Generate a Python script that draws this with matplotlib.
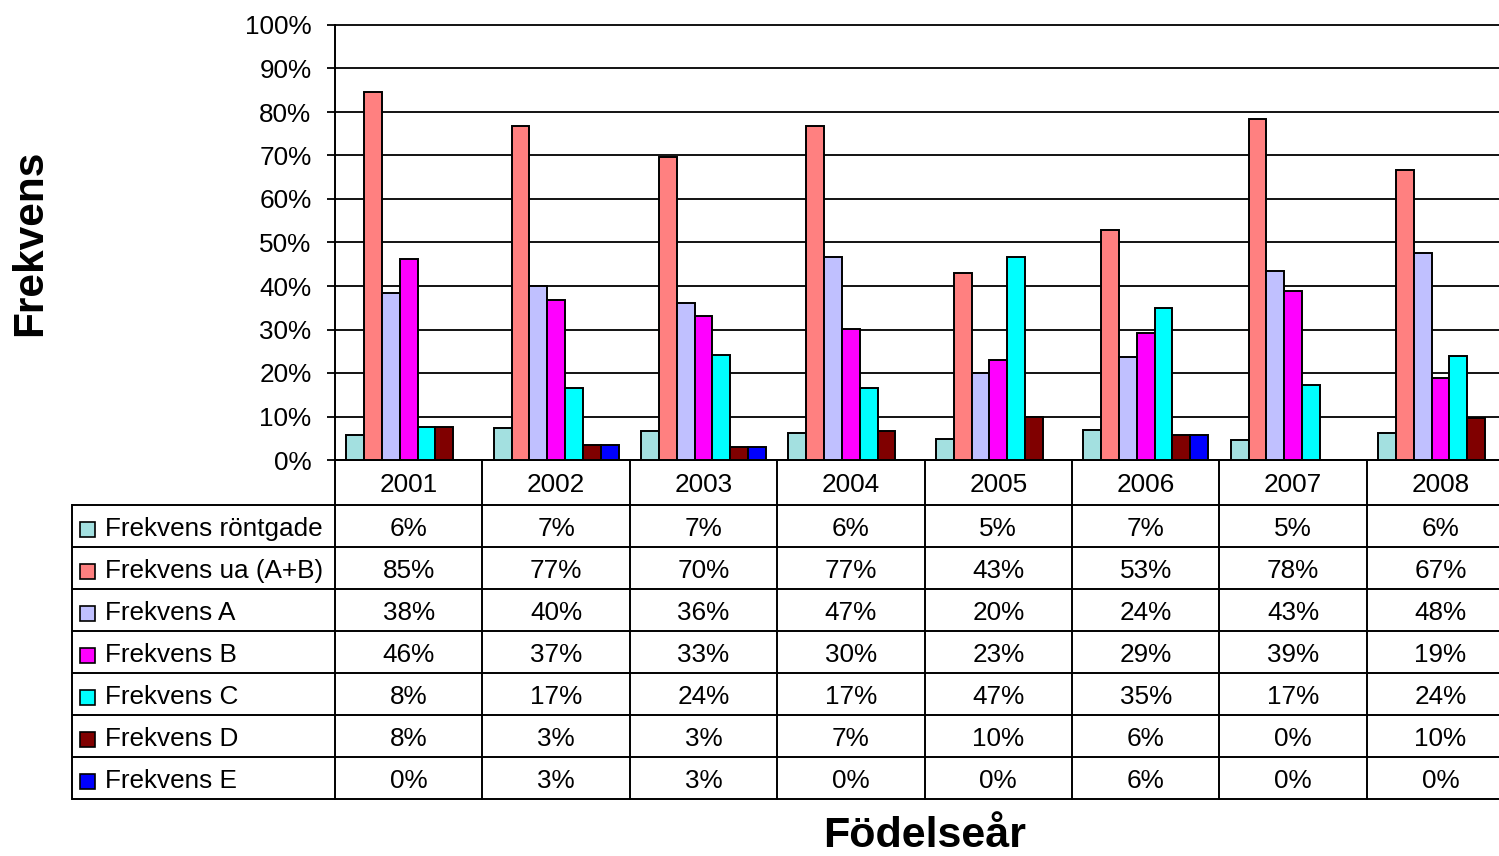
import matplotlib
matplotlib.use("Agg")
import matplotlib.pyplot as plt
from matplotlib.transforms import blended_transform_factory
from matplotlib.patches import Rectangle
import numpy as np

plt.rcParams['font.family'] = ['Liberation Sans', 'DejaVu Sans']

years = ["2001", "2002", "2003", "2004", "2005", "2006", "2007", "2008"]
series_names = ["Frekvens röntgade", "Frekvens ua (A+B)", "Frekvens A", "Frekvens B",
                "Frekvens C", "Frekvens D", "Frekvens E"]
rontgade = [5.8, 7.3, 6.6, 6.1, 4.9, 6.9, 4.6, 6.1]
ua_ab    = [84.6, 76.8, 69.7, 76.8, 43.1, 52.8, 78.3, 66.7]
freq_a   = [38.4, 40.1, 36.2, 46.7, 19.9, 23.6, 43.4, 47.6]
freq_b   = [46.2, 36.7, 33.1, 30.1, 23.1, 29.3, 38.9, 18.8]
freq_c   = [7.7, 16.6, 24.2, 16.6, 46.6, 35.0, 17.3, 23.8]
freq_d   = [7.7, 3.4, 3.0, 6.6, 9.9, 5.7, 0.0, 9.6]
freq_e   = [0.0, 3.4, 3.0, 0.0, 0.0, 5.7, 0.0, 0.0]
colors = ["#A3E0E0", "#FF8080", "#C0C0FF", "#FF00FF", "#00FFFF", "#800000", "#0000FF"]
yticks = list(range(0, 101, 10))

series = [rontgade, ua_ab, freq_a, freq_b, freq_c, freq_d, freq_e]

W, H = 1499, 856
fig = plt.figure(figsize=(W / 100, H / 100), dpi=100)

FS = 18.8

# geometry in pixels
ax_left, ax_top, ax_bottom = 335, 25, 460
colw = 147.4
ax_w = colw * len(years)
ax = fig.add_axes([ax_left / W, (H - ax_bottom) / H, ax_w / W, (ax_bottom - ax_top) / H])

n = len(series)
bw = 0.121
x = np.arange(len(years))
for k, (vals, col) in enumerate(zip(series, colors)):
    offs = (k - (n - 1) / 2) * bw
    ax.bar(x + offs, vals, width=bw, color=col, edgecolor="black", linewidth=1.4, zorder=3)

ax.set_xlim(-0.5, len(years) - 0.5)
ax.set_ylim(0, 100)
ax.set_yticks(yticks)
ax.set_yticklabels([f"{v}%" for v in yticks], fontsize=FS)
ax.tick_params(axis='y', length=6, width=1.3, pad=11, color='black')
ax.set_xticks([])
ax.grid(axis='y', color='black', linewidth=1.3, zorder=0)
for gl in ax.get_ygridlines():
    gl.set_clip_on(False)
ax.set_axisbelow(True)
for s in ["top", "right"]:
    ax.spines[s].set_visible(False)
ax.spines["left"].set_linewidth(1.4)
ax.spines["bottom"].set_linewidth(1.4)

# table overlay (pixel coordinates)
tax = fig.add_axes([0, 0, 1, 1], zorder=5)
tax.set_xlim(0, W)
tax.set_ylim(H, 0)
tax.axis('off')
tax.patch.set_alpha(0)

row_top = 505
row_h = 42
table_bottom = row_top + row_h * n
right_edge = ax_left + ax_w
lw = 1.4
for r in range(n + 1):
    yy = row_top + r * row_h
    tax.plot([72, right_edge], [yy, yy], color='black', lw=lw, solid_capstyle='butt')
tax.plot([72, 72], [row_top, table_bottom], color='black', lw=lw)
for c in range(len(years) + 1):
    xx = ax_left + c * colw
    tax.plot([xx, xx], [ax_bottom, table_bottom], color='black', lw=lw)

trans = blended_transform_factory(ax.transData, ax.transAxes)
axh = ax_bottom - ax_top
def ypix_to_axes(p):
    return (ax_bottom - p) / axh

for i, yr in enumerate(years):
    ax.text(i, ypix_to_axes((ax_bottom + row_top) / 2 + 2), yr, transform=trans,
            ha='center', va='center', fontsize=FS, clip_on=False)
for r, (name, vals, col) in enumerate(zip(series_names, series, colors)):
    yc = row_top + r * row_h + row_h / 2 + 3
    for i, v in enumerate(vals):
        ax.text(i, ypix_to_axes(yc), f"{v:.0f}%", transform=trans,
                ha='center', va='center', fontsize=FS, clip_on=False)
    tax.add_patch(Rectangle((80, yc - 7), 15, 15, facecolor=col, edgecolor='black', lw=1.2))
    tax.text(105, yc, name, ha='left', va='center', fontsize=FS)

fig.text(30 / W, 1 - 243 / H, "Frekvens", rotation=90, ha='center', va='center',
         fontsize=30.5, fontweight='bold')
fig.text(925 / W, 1 - 836 / H, "Födelseår", ha='center', va='center',
         fontsize=31, fontweight='bold')

fig.savefig("out.png", dpi=100)
